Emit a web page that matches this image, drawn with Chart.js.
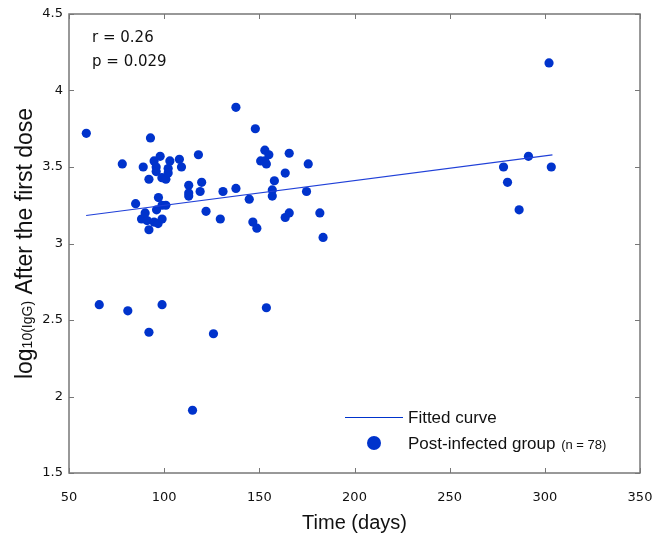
<!DOCTYPE html>
<html>
<head>
<meta charset="utf-8">
<script src="https://cdn.jsdelivr.net/npm/chart.js@4"></script>
<style>
  html, body { margin: 0; padding: 0; background: #fff; }
  #wrap { width: 652px; height: 535px; }
</style>
</head>
<body>
<div id="wrap"><canvas id="scatterChart" width="652" height="535"></canvas></div>
<script>
// days since infection and log10(IgG) after the first dose
const days = [
    59.1, 65.9, 78.0, 80.9, 85.0, 88.1, 89.0, 90.0, 91.0, 92.0,
    92.0, 92.0, 92.8, 94.7, 94.7, 95.8, 95.8, 96.0, 96.8, 97.0,
    97.9, 98.8, 98.9, 98.9, 98.9, 100.9, 100.9, 102.1, 102.1, 103.0,
    108.0, 109.1, 112.9, 112.9, 112.9, 114.9, 118.0, 118.9, 119.7, 122.0,
    125.9, 129.5, 130.9, 137.7, 137.7, 144.7, 146.6, 147.9, 148.7, 150.7,
    152.9, 152.9, 153.7, 153.7, 155.0, 156.8, 156.8, 157.9, 163.6, 163.6,
    165.7, 165.7, 174.8, 175.7, 181.8, 183.5, 278.3, 280.4, 286.5, 291.4,
    302.2, 303.4
];
const logIgG = [
    3.72, 2.60, 3.52, 2.56, 3.26, 3.16, 3.50, 3.20, 3.15, 3.09,
    3.42, 2.42, 3.69, 3.54, 3.14, 3.50, 3.47, 3.22, 3.13, 3.30,
    3.57, 3.43, 3.16, 3.25, 2.60, 3.42, 3.25, 3.49, 3.46, 3.54,
    3.55, 3.50, 3.38, 3.33, 3.31, 1.91, 3.58, 3.34, 3.40, 3.21,
    2.41, 3.16, 3.34, 3.89, 3.36, 3.29, 3.14, 3.75, 3.10, 3.54,
    3.61, 3.54, 3.52, 2.58, 3.58, 3.35, 3.31, 3.41, 3.46, 3.17,
    3.59, 3.20, 3.34, 3.52, 3.20, 3.04, 3.50, 3.40, 3.22, 3.57,
    4.18, 3.50
];

// fitted line end points
const fitDays = [59, 304];
const fitLog = [3.183, 3.579];

const xTicks = [50, 100, 150, 200, 250, 300, 350];
const yTicks = [1.5, 2, 2.5, 3, 3.5, 4, 4.5];

const blue = '#0033cc';
const axisGray = '#777777';
const tickFont = 'DejaVu Sans';
const titleFont = 'Liberation Sans';

const points = days.map((d, i) => ({ x: d, y: logIgG[i] }));
const fitLine = fitDays.map((d, i) => ({ x: d, y: fitLog[i] }));

// y title in mixed sizes: "log" + small "10(IgG)" + " After the first dose"
const yTitleParts = [
    { text: 'log', size: 23 },
    { text: '10(IgG)', size: 14 },
    { text: ' After the first dose', size: 23 }
];

// box, inward ticks, y title, stats text and legend
const decorations = {
    id: 'decorations',
    afterDraw(chart) {
        const ctx = chart.ctx;
        const a = chart.chartArea;
        const xs = chart.scales.x;
        const ys = chart.scales.y;

        ctx.save();
        ctx.strokeStyle = axisGray;
        ctx.lineWidth = 1.5;
        ctx.strokeRect(a.left, a.top, a.right - a.left, a.bottom - a.top);

        ctx.lineWidth = 1;
        const len = 5;
        xTicks.forEach(v => {
            const px = Math.round(xs.getPixelForValue(v)) + 0.5;
            ctx.beginPath();
            ctx.moveTo(px, a.bottom); ctx.lineTo(px, a.bottom - len);
            ctx.moveTo(px, a.top); ctx.lineTo(px, a.top + len);
            ctx.stroke();
        });
        yTicks.forEach(v => {
            const py = Math.round(ys.getPixelForValue(v)) + 0.5;
            ctx.beginPath();
            ctx.moveTo(a.left, py); ctx.lineTo(a.left + len, py);
            ctx.moveTo(a.right, py); ctx.lineTo(a.right - len, py);
            ctx.stroke();
        });

        // rotated y-axis title
        ctx.fillStyle = '#111';
        ctx.textBaseline = 'alphabetic';
        ctx.textAlign = 'left';
        let total = 0;
        yTitleParts.forEach(p => {
            ctx.font = p.size + 'px "' + titleFont + '"';
            p.w = ctx.measureText(p.text).width;
            total += p.w;
        });
        ctx.save();
        ctx.translate(32, (a.top + a.bottom) / 2);
        ctx.rotate(-Math.PI / 2);
        let cx = -total / 2;
        yTitleParts.forEach(p => {
            ctx.font = p.size + 'px "' + titleFont + '"';
            ctx.fillText(p.text, cx, 0);
            cx += p.w;
        });
        ctx.restore();

        // correlation text
        ctx.textBaseline = 'middle';
        ctx.font = '15px "' + tickFont + '"';
        ctx.fillText('r = 0.26', a.left + 23, 38);
        ctx.fillText('p = 0.029', a.left + 23, 62);

        // legend
        const lx = 345, lTextX = 408;
        ctx.strokeStyle = blue;
        ctx.lineWidth = 1;
        ctx.beginPath();
        ctx.moveTo(lx, 417.5); ctx.lineTo(lx + 58, 417.5);
        ctx.stroke();
        ctx.fillStyle = blue;
        ctx.beginPath();
        ctx.arc(374, 443, 7, 0, Math.PI * 2);
        ctx.fill();

        ctx.fillStyle = '#111';
        ctx.font = '17px "' + titleFont + '"';
        ctx.fillText('Fitted curve', lTextX, 418);
        ctx.fillText('Post-infected group', lTextX, 444);
        const w = ctx.measureText('Post-infected group ').width;
        ctx.font = '13px "' + titleFont + '"';
        ctx.fillText('(n = 78)', lTextX + w + 1, 445);
        ctx.restore();
    }
};

new Chart(document.getElementById('scatterChart'), {
    type: 'scatter',

    data: {
        datasets: [
            {
                label: 'Fitted curve',
                data: fitLine,
                showLine: true,
                borderColor: '#2040d8',
                borderWidth: 1.2,
                pointRadius: 0,
                fill: false
            },
            {
                label: 'Post-infected group',
                data: points,
                backgroundColor: blue,
                borderColor: blue,
                borderWidth: 0,
                pointRadius: 4.6,
                pointHoverRadius: 4.6
            }
        ]
    },

    options: {
        responsive: false,
        animation: false,
        events: [],

        layout: {
            padding: { top: 14, right: 12, left: 0, bottom: 0 }
        },

        plugins: {
            legend: { display: false },
            tooltip: { enabled: false }
        },

        scales: {
            x: {
                type: 'linear',
                min: 50,
                max: 350,
                afterFit(scale) {
                    scale.height = 62;
                    scale.paddingLeft = 0;
                    scale.paddingRight = 0;
                },
                afterBuildTicks(scale) { scale.ticks = xTicks.map(v => ({ value: v })); },
                grid: { display: false, drawTicks: false },
                border: { display: false },
                ticks: {
                    color: '#111',
                    padding: 17,
                    font: { family: tickFont, size: 13 },
                    maxRotation: 0
                },
                title: {
                    display: true,
                    text: 'Time (days)',
                    color: '#111',
                    font: { family: titleFont, size: 20 },
                    padding: { top: 2, bottom: 0 }
                }
            },

            y: {
                type: 'linear',
                min: 1.5,
                max: 4.5,
                afterFit(scale) {
                    scale.width = 69;
                    scale.paddingTop = 0;
                    scale.paddingBottom = 0;
                },
                afterBuildTicks(scale) { scale.ticks = yTicks.map(v => ({ value: v })); },
                grid: { display: false, drawTicks: false },
                border: { display: false },
                ticks: {
                    color: '#111',
                    padding: 6,
                    font: { family: tickFont, size: 13 },
                    callback: v => String(v)
                }
            }
        }
    },

    plugins: [decorations]
});
</script>
</body>
</html>
